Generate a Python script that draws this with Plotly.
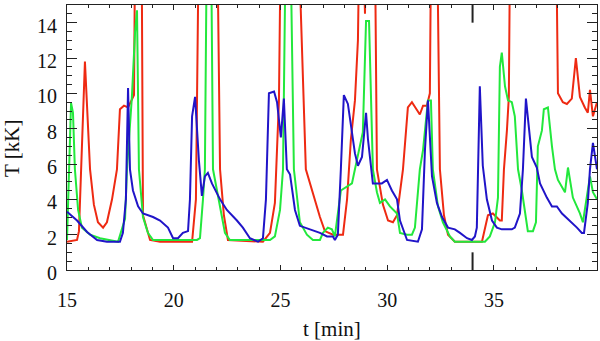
import plotly.graph_objects as go

# ---- data (t in minutes, T in kK) ----
t_red = [15.00, 15.47, 15.56, 15.84, 16.08, 16.26, 16.45, 16.69, 16.87, 17.11, 17.34, 17.48, 17.67, 17.86,
         18.14, 18.23, 18.47, 18.56, 18.89, 19.36, 20.86, 21.04, 21.23, 21.98, 22.17, 22.35, 22.54, 24.18,
         24.51, 24.74, 24.93, 25.07, 25.68, 26.19, 26.85, 27.08, 27.46, 27.93, 28.12, 28.30, 28.49, 28.63,
         28.77, 28.96, 29.10, 29.38, 29.52, 29.80, 30.04, 30.27, 30.46, 30.60, 30.74, 30.97, 31.16, 31.53,
         31.68, 31.86, 32.00, 32.10, 32.28, 32.47, 32.66, 32.85, 33.17, 34.44, 34.72, 34.95, 35.28, 35.37,
         35.47, 35.61, 35.70, 35.80, 37.86, 38.00, 38.23, 38.42, 38.65, 38.84, 39.03, 39.26, 39.40, 39.50,
         39.64, 39.83]
T_red = [1.6, 1.7, 2.2, 11.8, 5.7, 3.7, 2.7, 2.4, 2.7, 4.0, 5.7, 9.1, 9.3, 9.2,
         9.9, 25, 25, 3.1, 1.7, 1.6, 1.6, 4.0, 25, 25, 5.7, 3.1, 1.7, 1.6,
         2.1, 3.8, 9.6, 25, 25, 5.7, 3.0, 2.2, 2.0, 2.0, 4.0, 7.4, 9.6, 13.0,
         25, 14.5, 25, 25, 5.7, 3.7, 2.8, 2.7, 3.1, 4.5, 5.7, 9.2, 9.5, 8.8,
         9.3, 9.3, 10.0, 25, 25, 5.7, 3.1, 2.0, 1.6, 1.6, 3.1, 3.2, 2.8, 2.8,
         5.7, 7.9, 9.8, 25, 25, 10.0, 9.5, 9.4, 9.7, 12.0, 9.8, 9.2, 8.9, 10.2,
         8.7, 9.5]

t_green = [15.00, 15.19, 15.28, 15.37, 15.52, 15.70, 16.08, 16.55, 17.39, 17.72, 17.81, 18.04, 18.19, 18.28,
           18.37, 18.56, 18.79, 19.03, 21.09, 21.23, 21.37, 21.46, 21.56, 21.74, 21.84, 22.17, 22.40, 22.63,
           24.51, 24.74, 24.98, 25.12, 25.26, 25.45, 25.63, 25.91, 26.24, 26.52, 26.85, 26.99, 27.22, 27.41,
           27.55, 27.83, 28.12, 28.35, 28.49, 28.86, 29.01, 29.15, 29.33, 29.52, 29.66, 29.90, 30.13, 30.46,
           30.60, 30.93, 31.16, 31.30, 31.53, 31.68, 31.91, 32.05, 32.14, 32.38, 32.61, 32.94, 33.17, 34.58,
           34.81, 35.05, 35.19, 35.28, 35.37, 35.52, 35.66, 35.84, 35.98, 36.13, 36.31, 36.45, 36.59, 36.83,
           36.97, 37.06, 37.25, 37.34, 37.53, 37.72, 37.86, 38.00, 38.19, 38.33, 38.47, 38.70, 39.03, 39.17,
           39.50, 39.64, 39.83]
T_green = [1.7, 9.45, 8.9, 5.7, 3.4, 2.4, 2.0, 1.8, 1.6, 2.9, 5.7, 9.8, 13.5, 14.7,
           5.7, 3.0, 2.1, 1.7, 1.7, 1.8, 4.0, 5.7, 20, 20, 5.7, 3.6, 2.1, 1.7,
           1.7, 1.9, 3.4, 5.7, 20, 20, 5.7, 2.7, 2.0, 1.7, 1.7, 2.1, 2.4, 2.3,
           1.9, 4.5, 4.7, 4.9, 5.7, 7.8, 14.1, 14.1, 5.7, 4.4, 3.8, 4.0, 3.6, 3.2,
           2.1, 2.0, 2.0, 2.4, 5.7, 6.8, 9.6, 9.6, 5.7, 3.6, 2.7, 1.9, 1.6, 1.6,
           1.9, 2.7, 4.1, 11.5, 12.3, 10.4, 9.6, 9.5, 8.7, 5.7, 4.5, 3.4, 2.2, 2.2,
           2.7, 7.0, 7.9, 9.1, 9.2, 7.0, 5.7, 5.1, 4.7, 4.4, 5.8, 4.1, 3.2, 2.7,
           5.3, 4.4, 4.0]

t_blue = [15.00, 15.47, 15.94, 16.41, 16.87, 17.48, 17.62, 17.76, 17.86, 17.95, 18.09, 18.33, 18.56, 19.03,
          19.36, 19.73, 19.97, 20.20, 20.43, 20.67, 20.76, 20.86, 21.00, 21.18, 21.32, 21.46, 21.60, 21.79,
          22.17, 22.49, 22.96, 23.24, 23.57, 23.95, 24.18, 24.32, 24.46, 24.70, 24.84, 25.02, 25.16, 25.30,
          25.45, 25.68, 25.91, 26.38, 26.85, 27.18, 27.46, 27.55, 27.69, 27.83, 27.97, 28.16, 28.35, 28.49,
          28.63, 28.82, 29.01, 29.10, 29.33, 29.75, 29.99, 30.22, 30.46, 30.60, 30.93, 31.44, 31.63, 31.77,
          31.91, 32.10, 32.33, 32.57, 32.85, 33.17, 33.41, 33.74, 33.97, 34.11, 34.20, 34.34, 34.48, 34.67,
          34.91, 35.14, 35.37, 35.84, 35.98, 36.22, 36.36, 36.50, 36.78, 37.01, 37.16, 37.48, 37.72, 37.95,
          38.19, 38.56, 38.89, 39.12, 39.22, 39.40, 39.50, 39.64, 39.83]
T_blue = [3.3, 2.8, 2.15, 1.7, 1.6, 1.6, 2.1, 4.0, 10.3, 5.7, 4.5, 3.6, 3.2, 3.0,
          2.8, 2.4, 1.8, 1.8, 2.1, 2.2, 4.0, 8.7, 9.8, 6.2, 4.2, 5.3, 5.5, 4.9,
          4.0, 3.4, 2.8, 2.4, 1.8, 1.6, 1.8, 4.0, 10.0, 10.1, 9.5, 7.5, 9.7, 5.7,
          5.4, 3.4, 2.5, 2.3, 2.1, 1.9, 1.9, 1.7, 2.0, 5.7, 9.9, 9.4, 7.8, 6.6,
          5.9, 6.4, 8.9, 7.4, 4.9, 4.9, 5.1, 4.5, 4.0, 2.8, 1.7, 1.6, 2.3, 6.8,
          9.6, 5.3, 3.8, 3.0, 2.4, 2.3, 2.1, 1.8, 1.7, 1.9, 2.4, 10.4, 5.9, 4.0,
          2.8, 2.4, 2.3, 2.3, 2.4, 3.2, 5.7, 9.7, 6.4, 5.8, 4.9, 4.1, 3.6, 3.6,
          3.2, 2.8, 2.4, 2.1, 2.1, 3.8, 5.7, 7.2, 5.7]

x_ticks = [15, 20, 25, 30, 35]
y_ticks = [0, 2, 4, 6, 8, 10, 12, 14]
marker_t = 34

RED = "#ee2a12"
GREEN = "#22e83c"
BLUE = "#2014c8"
AXC = "#222222"
FONT = "Liberation Serif, Times New Roman, serif"

fig = go.Figure()
fig.add_trace(go.Scatter(x=t_red, y=T_red, mode="lines", line=dict(color=RED, width=2)))
fig.add_trace(go.Scatter(x=t_green, y=T_green, mode="lines", line=dict(color=GREEN, width=2)))
fig.add_trace(go.Scatter(x=t_blue, y=T_blue, mode="lines", line=dict(color=BLUE, width=2)))

fig.update_layout(
    width=600, height=341,
    margin=dict(l=67, r=3, t=5, b=71, pad=0, autoexpand=False),
    paper_bgcolor="white", plot_bgcolor="white",
    showlegend=False,
    font=dict(family=FONT, size=20, color="#111"),
    xaxis=dict(range=[15, 39.83], tickvals=x_ticks, ticks="inside", ticklen=5, tickwidth=1,
               tickcolor=AXC, showline=True, linecolor=AXC, linewidth=1, mirror="allticks",
               showgrid=False, zeroline=False, ticklabelstandoff=12, automargin=False,
               tickfont=dict(family=FONT, size=20, color="#111"),
               minor=dict(ticks="inside", ticklen=3, dtick=1, tick0=15, tickcolor=AXC, showgrid=False)),
    yaxis=dict(range=[0, 15], tickvals=y_ticks, ticks="inside", ticklen=10, tickwidth=1,
               tickcolor=AXC, showline=True, linecolor=AXC, linewidth=1, mirror="allticks",
               showgrid=False, zeroline=False, ticklabelstandoff=5, ticklabelshift=3, automargin=False,
               tickfont=dict(family=FONT, size=20, color="#111"),
               minor=dict(ticks="inside", ticklen=5, dtick=0.5, tick0=0, tickcolor=AXC, showgrid=False)),
    annotations=[
        dict(text="t [min]", xref="paper", yref="paper", x=0.5, y=-0.223, xanchor="center",
             yanchor="middle", showarrow=False, font=dict(family=FONT, size=21, color="#111")),
        dict(text="T [kK]", xref="paper", yref="paper", x=-0.104, y=0.46, xanchor="center",
             yanchor="middle", textangle=-90, showarrow=False, font=dict(family=FONT, size=21, color="#111")),
    ],
    shapes=[
        dict(type="line", xref="x", yref="y", x0=marker_t, x1=marker_t, y0=14, y1=15,
             line=dict(color=AXC, width=2)),
        dict(type="line", xref="x", yref="y", x0=marker_t, x1=marker_t, y0=0, y1=1,
             line=dict(color=AXC, width=2)),
    ],
)

fig.write_html("out.html", config={"displayModeBar": False},
               post_script="document.body.style.margin='0px';document.body.style.overflow='hidden';")
